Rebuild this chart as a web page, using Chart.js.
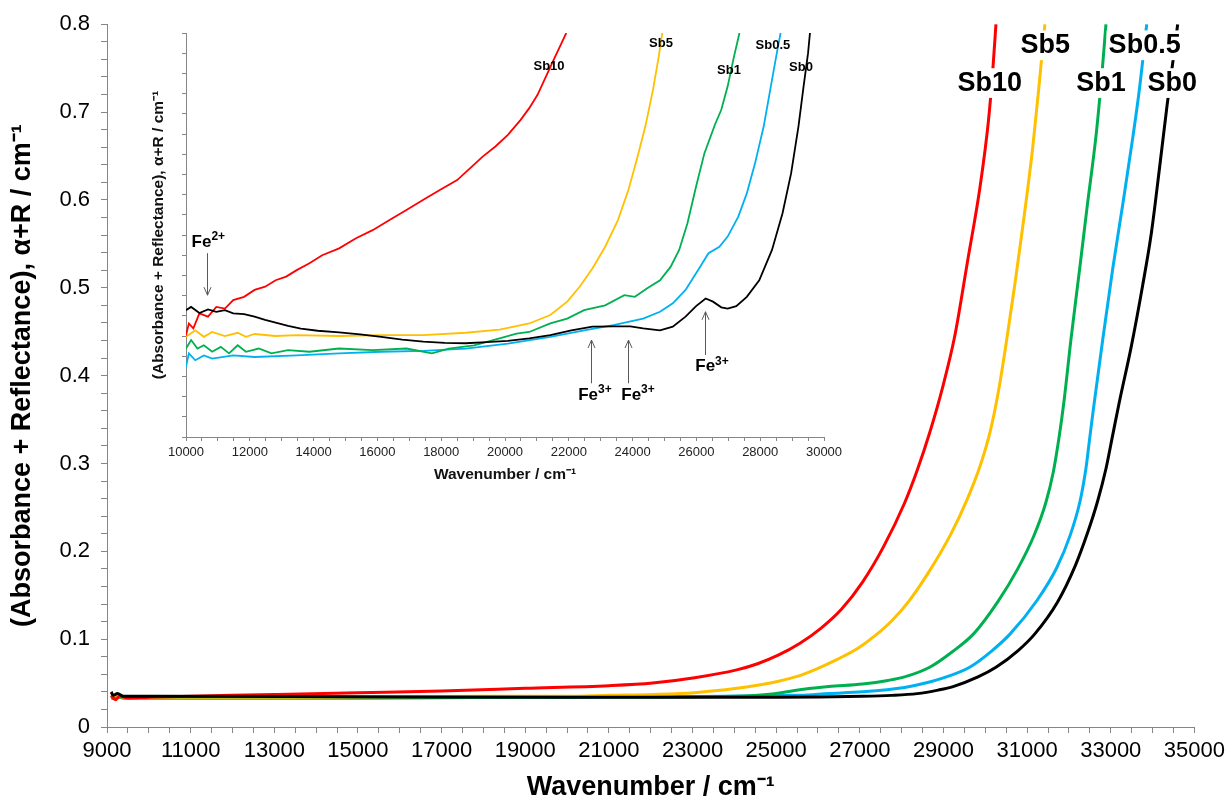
<!DOCTYPE html>
<html lang="en">
<head>
<meta charset="UTF-8">
<title>Absorbance + Reflectance spectra</title>
<script src="https://cdn.jsdelivr.net/npm/chart.js@4"></script>
<style>
  html, body { margin: 0; padding: 0; background: #fff; }
  #wrap { position: relative; width: 1230px; height: 804px; }
  #wrap canvas { position: absolute; left: 0; top: 0; }
</style>
</head>
<body>
<div id="wrap">
  <canvas id="mainChart" width="1230" height="804"></canvas>
  <canvas id="insetChart" width="1230" height="804"></canvas>
</div>
<script>
const FONT = '"Liberation Sans", Arial, sans-serif';

// ---- main chart: wavenumber (cm-1) vs alpha+R (cm-1) ----
const sb0X = [9100, 9150, 9250, 9400, 9700, 10000, 15000, 20000, 25000, 27060, 27760, 28370, 28870, 29230, 29825, 30255, 30785, 31185, 31725, 32155, 32445, 32685, 32885, 33045, 33205, 33490, 33760, 33970, 34160, 34350, 34510, 34600];
const sb0Y = [0.040, 0.036, 0.038, 0.035, 0.035, 0.035, 0.0345, 0.034, 0.034, 0.035, 0.036, 0.038, 0.042, 0.046, 0.057, 0.068, 0.087, 0.106, 0.142, 0.184, 0.221, 0.257, 0.294, 0.332, 0.370, 0.433, 0.502, 0.562, 0.634, 0.709, 0.766, 0.800];

const sb05X = [9100, 9200, 9400, 10000, 15000, 20000, 25560, 26260, 27065, 28070, 28570, 29070, 29625, 30165, 30595, 31235, 31705, 32035, 32265, 32405, 32505, 32585, 32805, 33045, 33290, 33530, 33690, 33860];
const sb05Y = [0.033, 0.035, 0.033, 0.033, 0.033, 0.034, 0.036, 0.038, 0.040, 0.045, 0.050, 0.057, 0.068, 0.087, 0.106, 0.144, 0.181, 0.219, 0.257, 0.294, 0.332, 0.362, 0.440, 0.521, 0.596, 0.672, 0.728, 0.800];

const sb1X = [9100, 9200, 9400, 10000, 15000, 20000, 24055, 24960, 25660, 26260, 27065, 27670, 28070, 28670, 29220, 29720, 30305, 30775, 31165, 31445, 31625, 31765, 31885, 32045, 32255, 32445, 32645, 32795, 32885];
const sb1Y = [0.032, 0.035, 0.033, 0.033, 0.033, 0.034, 0.035, 0.038, 0.043, 0.046, 0.049, 0.053, 0.057, 0.068, 0.086, 0.106, 0.143, 0.180, 0.218, 0.255, 0.290, 0.330, 0.372, 0.440, 0.521, 0.596, 0.672, 0.747, 0.800];

const sb5X = [9100, 9200, 9400, 10000, 14000, 18000, 20000, 21000, 22045, 23050, 24055, 24860, 25460, 25960, 26460, 26965, 27365, 27765, 28170, 28670, 29170, 29575, 29875, 30125, 30325, 30525, 30725, 30925, 31135, 31285, 31425];
const sb5Y = [0.034, 0.036, 0.034, 0.034, 0.034, 0.035, 0.035, 0.036, 0.037, 0.039, 0.044, 0.050, 0.057, 0.066, 0.077, 0.090, 0.104, 0.121, 0.143, 0.178, 0.219, 0.260, 0.297, 0.338, 0.385, 0.445, 0.510, 0.580, 0.660, 0.730, 0.800];

const sb10X = [9100, 9200, 9300, 9500, 10000, 11000, 13000, 15000, 17000, 19000, 21000, 22045, 23050, 24055, 24555, 25060, 25560, 26060, 26560, 27065, 27565, 28070, 28370, 28670, 28970, 29270, 29575, 29875, 30075, 30175, 30255];
const sb10Y = [0.036, 0.031, 0.035, 0.033, 0.034, 0.035, 0.037, 0.039, 0.041, 0.044, 0.047, 0.050, 0.056, 0.065, 0.072, 0.082, 0.095, 0.112, 0.134, 0.165, 0.205, 0.255, 0.292, 0.335, 0.385, 0.445, 0.530, 0.615, 0.690, 0.745, 0.800];

// ---- inset: 10000-30000 cm-1, y in relative units (axis has no labels) ----
const inSb0X = [10000, 10160, 10420, 10690, 10950, 11220, 11480, 11820, 12150, 12480, 12810, 13200, 13600, 14130, 14800, 15460, 16120, 16780, 17440, 18110, 18770, 19430, 20090, 20760, 21420, 22080, 22740, 23400, 23930, 24330, 24860, 25260, 25660, 25990, 26290, 26520, 26780, 26980, 27250, 27580, 27970, 28370, 28700, 28970, 29200, 29360, 29500, 29560];
const inSb0Y = [0.314, 0.322, 0.307, 0.316, 0.310, 0.314, 0.306, 0.304, 0.298, 0.290, 0.283, 0.275, 0.268, 0.263, 0.259, 0.254, 0.248, 0.241, 0.236, 0.233, 0.232, 0.235, 0.238, 0.244, 0.252, 0.264, 0.273, 0.274, 0.274, 0.269, 0.264, 0.273, 0.298, 0.324, 0.343, 0.335, 0.321, 0.318, 0.324, 0.347, 0.388, 0.463, 0.554, 0.653, 0.769, 0.868, 0.950, 1.000];

const inSb05X = [10000, 10090, 10290, 10560, 10820, 11480, 12150, 13470, 14800, 16120, 17440, 18770, 20090, 21420, 22480, 23400, 24330, 24860, 25260, 25660, 26050, 26380, 26720, 26980, 27310, 27580, 27840, 28110, 28370, 28540, 28640];
const inSb05Y = [0.174, 0.207, 0.190, 0.202, 0.194, 0.202, 0.198, 0.202, 0.207, 0.211, 0.213, 0.219, 0.231, 0.248, 0.264, 0.277, 0.293, 0.310, 0.331, 0.364, 0.413, 0.455, 0.471, 0.496, 0.545, 0.603, 0.678, 0.769, 0.884, 0.959, 1.000];

const inSb1X = [10000, 10160, 10360, 10560, 10820, 11090, 11350, 11620, 11880, 12280, 12680, 13200, 13870, 14800, 15850, 16910, 17710, 18240, 19030, 19830, 20360, 20760, 21420, 21950, 22480, 23140, 23740, 24070, 24460, 24860, 25190, 25460, 25720, 25990, 26250, 26580, 26780, 26980, 27180, 27350];
const inSb1Y = [0.219, 0.240, 0.219, 0.227, 0.211, 0.223, 0.207, 0.227, 0.211, 0.219, 0.207, 0.215, 0.211, 0.219, 0.215, 0.219, 0.207, 0.219, 0.227, 0.244, 0.256, 0.260, 0.281, 0.293, 0.314, 0.326, 0.351, 0.347, 0.368, 0.388, 0.421, 0.463, 0.529, 0.620, 0.702, 0.773, 0.810, 0.868, 0.942, 1.000];

const inSb5X = [10000, 10290, 10560, 10820, 11220, 11620, 11880, 12150, 12810, 13470, 14800, 16120, 17440, 18770, 19830, 20760, 21420, 21950, 22340, 22740, 23140, 23540, 23870, 24130, 24400, 24640, 24820, 24930];
const inSb5Y = [0.248, 0.264, 0.248, 0.260, 0.250, 0.258, 0.248, 0.255, 0.250, 0.252, 0.250, 0.252, 0.252, 0.258, 0.266, 0.281, 0.302, 0.335, 0.372, 0.417, 0.471, 0.537, 0.612, 0.686, 0.769, 0.860, 0.942, 1.000];

const inSb10X = [10000, 10090, 10230, 10420, 10690, 10950, 11220, 11480, 11820, 12150, 12480, 12810, 13140, 13470, 13870, 14270, 14800, 15330, 15850, 16380, 16910, 17440, 17970, 18500, 18900, 19300, 19700, 20090, 20490, 20760, 21020, 21290, 21550, 21750, 21920];
const inSb10Y = [0.252, 0.281, 0.269, 0.306, 0.298, 0.322, 0.318, 0.339, 0.347, 0.364, 0.372, 0.388, 0.397, 0.413, 0.430, 0.450, 0.467, 0.492, 0.512, 0.537, 0.562, 0.587, 0.612, 0.636, 0.665, 0.694, 0.719, 0.748, 0.785, 0.814, 0.847, 0.893, 0.938, 0.971, 1.000];

const seriesNames = ['Sb0', 'Sb10', 'Sb5', 'Sb1', 'Sb0.5'];
const seriesColors = ['#000000', '#ff0000', '#ffc000', '#00b050', '#00b0f0'];

const pts = (xs, ys) => xs.map((x, i) => ({ x, y: ys[i] }));

function drawSup(ctx, base, sup, cx, cy, size) {
  const supSize = Math.round(size * 0.68);
  ctx.font = `bold ${size}px ${FONT}`;
  const w1 = ctx.measureText(base).width;
  ctx.font = `bold ${supSize}px ${FONT}`;
  const w2 = ctx.measureText(sup).width;
  const left = cx - (w1 + w2) / 2;
  ctx.textAlign = 'left';
  ctx.textBaseline = 'middle';
  ctx.font = `bold ${size}px ${FONT}`;
  ctx.fillText(base, left, cy);
  ctx.font = `bold ${supSize}px ${FONT}`;
  ctx.fillText(sup, left + w1, cy - size * 0.32);
}

function drawArrow(ctx, x, yFrom, yTo) {
  ctx.beginPath();
  ctx.moveTo(x, yFrom);
  ctx.lineTo(x, yTo);
  ctx.stroke();
  const d = yTo > yFrom ? -1 : 1;
  ctx.beginPath();
  ctx.moveTo(x - 3.5, yTo + d * 8);
  ctx.lineTo(x, yTo);
  ctx.lineTo(x + 3.5, yTo + d * 8);
  ctx.stroke();
}

// text labels + arrows, placed in data coordinates
const notes = {
  id: 'notes',
  afterDatasetsDraw(chart, args, opts) {
    const { ctx, scales: { x, y } } = chart;
    ctx.save();
    ctx.fillStyle = '#000';
    (opts.labels || []).forEach(l => {
      const px = x.getPixelForValue(l.x), py = y.getPixelForValue(l.y);
      ctx.font = `bold ${opts.size}px ${FONT}`;
      if (opts.boxed) {
        const w = ctx.measureText(l.text).width;
        ctx.fillStyle = '#fff';
        ctx.fillRect(px - w / 2 - 2, py - opts.size * 0.55, w + 4, opts.size * 1.1);
        ctx.fillStyle = '#000';
      }
      ctx.textAlign = 'center';
      ctx.textBaseline = 'middle';
      ctx.fillText(l.text, px, py);
    });
    ctx.strokeStyle = '#595959';
    ctx.lineWidth = 1;
    (opts.arrows || []).forEach(a => {
      const px = Math.round(x.getPixelForValue(a.x)) + 0.5;
      drawArrow(ctx, px, y.getPixelForValue(a.from), y.getPixelForValue(a.to));
    });
    (opts.ions || []).forEach(f => {
      drawSup(ctx, 'Fe', f.sup, x.getPixelForValue(f.x), y.getPixelForValue(f.y), 17);
    });
    ctx.restore();
  }
};

function makeSets(list, width, mono) {
  return list.map(([name, color, data]) => ({
    label: name,
    data,
    borderColor: color,
    backgroundColor: color,
    borderWidth: width,
    pointRadius: 0,
    fill: false,
    tension: 0,
    cubicInterpolationMode: mono ? 'monotone' : 'default'
  }));
}

const axisColor = '#868686';

new Chart(document.getElementById('mainChart'), {
  type: 'line',
  data: {
    datasets: makeSets([
      ['Sb0', seriesColors[0], pts(sb0X, sb0Y)],
      ['Sb10', seriesColors[1], pts(sb10X, sb10Y)],
      ['Sb5', seriesColors[2], pts(sb5X, sb5Y)],
      ['Sb1', seriesColors[3], pts(sb1X, sb1Y)],
      ['Sb0.5', seriesColors[4], pts(sb05X, sb05Y)]
    ], 3, true)
  },
  options: {
    responsive: false,
    animation: false,
    layout: { padding: { top: 20, right: 31, left: 0, bottom: 0 } },
    plugins: {
      legend: { display: false },
      tooltip: { enabled: false },
      notes: {
        size: 27,
        boxed: true,
        labels: [
          { text: 'Sb10', x: 30105, y: 0.733 },
          { text: 'Sb5', x: 31435, y: 0.776 },
          { text: 'Sb1', x: 32765, y: 0.733 },
          { text: 'Sb0.5', x: 33810, y: 0.776 },
          { text: 'Sb0', x: 34470, y: 0.733 }
        ]
      }
    },
    scales: {
      x: {
        type: 'linear',
        min: 9000,
        max: 35000,
        afterFit(s) { s.height = 77; },
        border: { color: axisColor, width: 1 },
        grid: { drawOnChartArea: false, drawTicks: true, tickLength: 6, color: axisColor },
        ticks: {
          stepSize: 500,
          autoSkip: false,
          maxRotation: 0,
          padding: 5,
          color: '#000',
          font: { family: FONT, size: 22 },
          callback: v => ((v - 9000) % 2000 === 0 ? String(v) : '')
        },
        title: {
          display: true,
          text: 'Wavenumber / cm⁻¹',
          color: '#000',
          font: { family: FONT, size: 27, weight: 'bold' },
          padding: { top: 0, bottom: 0 }
        }
      },
      y: {
        min: 0,
        max: 0.8,
        afterFit(s) { s.width = 107; },
        border: { color: axisColor, width: 1 },
        grid: { drawOnChartArea: false, drawTicks: true, tickLength: 6, color: axisColor },
        ticks: {
          stepSize: 0.02,
          autoSkip: false,
          padding: 11,
          color: '#000',
          font: { family: FONT, size: 22 },
          callback: v => {
            const t = Math.round(v * 100);
            return t % 10 === 0 ? String(t / 100) : '';
          }
        },
        title: {
          display: true,
          text: '(Absorbance + Reflectance), α+R / cm⁻¹',
          color: '#000',
          font: { family: FONT, size: 27, weight: 'bold' },
          padding: { top: 6, bottom: 0 }
        }
      }
    }
  },
  plugins: [notes]
});

new Chart(document.getElementById('insetChart'), {
  type: 'line',
  data: {
    datasets: makeSets([
      ['Sb0', seriesColors[0], pts(inSb0X, inSb0Y)],
      ['Sb10', seriesColors[1], pts(inSb10X, inSb10Y)],
      ['Sb5', seriesColors[2], pts(inSb5X, inSb5Y)],
      ['Sb1', seriesColors[3], pts(inSb1X, inSb1Y)],
      ['Sb0.5', seriesColors[4], pts(inSb05X, inSb05Y)]
    ], 1.8, false)
  },
  options: {
    responsive: false,
    animation: false,
    layout: { padding: { top: 33, right: 406, left: 0, bottom: 0 } },
    plugins: {
      legend: { display: false },
      tooltip: { enabled: false },
      notes: {
        size: 13,
        boxed: false,
        labels: [
          { text: 'Sb10', x: 21380, y: 0.918 },
          { text: 'Sb5', x: 24890, y: 0.975 },
          { text: 'Sb1', x: 27020, y: 0.908 },
          { text: 'Sb0.5', x: 28400, y: 0.970 },
          { text: 'Sb0', x: 29280, y: 0.916 }
        ],
        arrows: [
          { x: 10660, from: 0.455, to: 0.351 },
          { x: 22690, from: 0.133, to: 0.240 },
          { x: 23850, from: 0.133, to: 0.240 },
          { x: 26260, from: 0.203, to: 0.310 }
        ],
        ions: [
          { sup: '2+', x: 10700, y: 0.483 },
          { sup: '3+', x: 22820, y: 0.104 },
          { sup: '3+', x: 24170, y: 0.104 },
          { sup: '3+', x: 26490, y: 0.174 }
        ]
      }
    },
    scales: {
      x: {
        type: 'linear',
        min: 10000,
        max: 30000,
        afterFit(s) { s.height = 367; },
        border: { color: axisColor, width: 1 },
        grid: { drawOnChartArea: false, drawTicks: true, tickLength: 4, color: axisColor },
        ticks: {
          stepSize: 500,
          autoSkip: false,
          maxRotation: 0,
          padding: 4,
          color: '#222',
          font: { family: FONT, size: 13 },
          callback: v => (v % 2000 === 0 ? String(v) : '')
        },
        title: {
          display: true,
          text: 'Wavenumber / cm⁻¹',
          color: '#111',
          font: { family: FONT, size: 15.5, weight: 'bold' },
          padding: { top: 0, bottom: 320 }
        }
      },
      y: {
        min: 0,
        max: 1,
        afterFit(s) { s.width = 186; },
        border: { color: axisColor, width: 1 },
        grid: { drawOnChartArea: false, drawTicks: true, tickLength: 4, color: axisColor },
        ticks: {
          stepSize: 0.05,
          autoSkip: false,
          callback: () => ''
        },
        title: {
          display: true,
          text: '(Absorbance + Reflectance), α+R / cm⁻¹',
          color: '#111',
          font: { family: FONT, size: 15.5, weight: 'bold' },
          padding: { top: 149, bottom: 0 }
        }
      }
    }
  },
  plugins: [notes]
});
</script>
</body>
</html>
